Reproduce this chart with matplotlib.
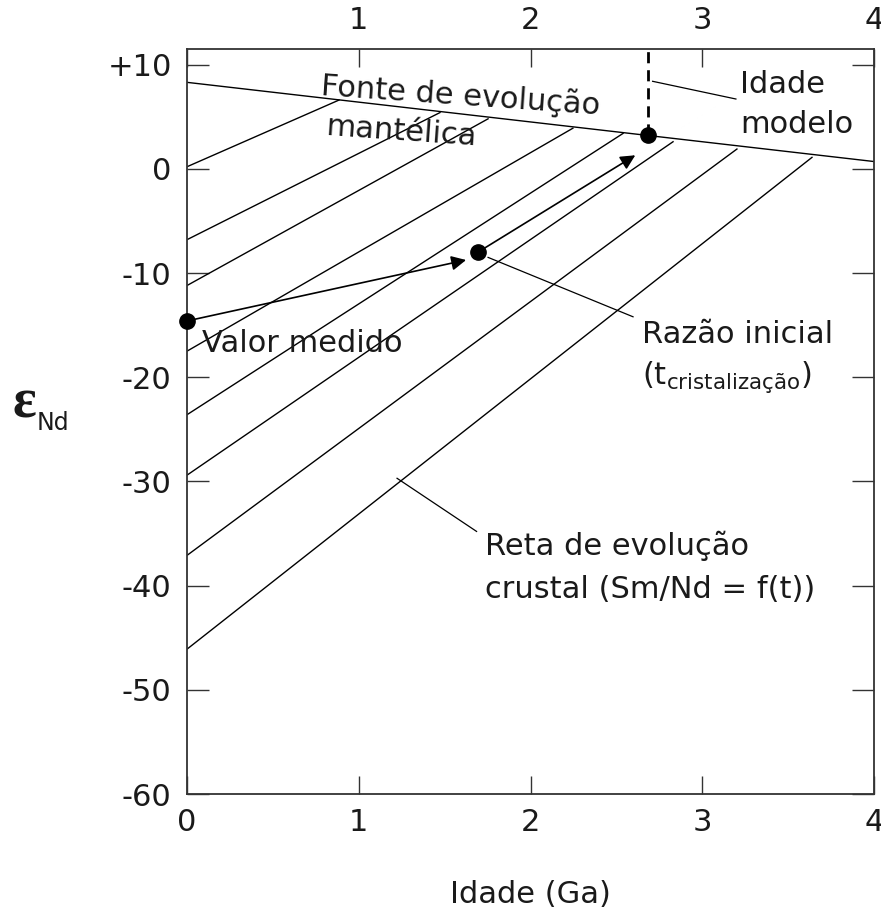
import matplotlib
matplotlib.use("Agg")
import matplotlib.pyplot as plt

# mantle evolution line (age Ga, eps Nd)
mantle_age = [0.0, 4.0]
mantle_eps = [8.3, 0.7]

# crustal evolution lines: start at age 0, end on mantle line
crust_start_eps = [0.2, -6.8, -11.2, -17.5, -23.6, -29.4, -37.1, -46.1]
crust_end_age = [0.885, 1.473, 1.753, 2.247, 2.539, 2.830, 3.202, 3.639]
crust_end_eps = [6.6, 5.4, 4.8, 3.9, 3.4, 2.6, 1.9, 1.1]

# key points: measured value, initial ratio, model age
pt_age = [0.0, 1.694, 2.684]
pt_eps = [-14.6, -8.0, 3.2]

yticks = [10, 0, -10, -20, -30, -40, -50, -60]
ytick_labels = ["+10", "0", "-10", "-20", "-30", "-40", "-50", "-60"]
xticks = [0, 1, 2, 3, 4]

FS = 22
plt.rcParams['font.family'] = ['DejaVu Sans']

fig = plt.figure(figsize=(8.81, 9.11), dpi=100)
ax = fig.add_axes([187/881, 1-794/911, (874-187)/881, (794-49)/911])

ax.plot(mantle_age, mantle_eps, color="black", lw=1.0)
for s, a, e in zip(crust_start_eps, crust_end_age, crust_end_eps):
    ax.plot([0, a], [s, e], color="black", lw=1.0)

# arrows
ax.annotate("", xy=(1.625, -8.75), xytext=(pt_age[0], pt_eps[0]),
            arrowprops=dict(arrowstyle="-|>", color="black", lw=1.2,
                            mutation_scale=22, shrinkA=0, shrinkB=0))
ax.annotate("", xy=(2.61, 1.3), xytext=(pt_age[1], pt_eps[1]),
            arrowprops=dict(arrowstyle="-|>", color="black", lw=1.2,
                            mutation_scale=22, shrinkA=0, shrinkB=0))

# model age dashed line
ax.plot([pt_age[2], pt_age[2]], [pt_eps[2], 11.5], color="black", lw=2,
        dashes=(4, 2.5))

ax.plot(pt_age, pt_eps, "o", color="black", ms=11, clip_on=False, zorder=5)

# leader lines
ax.plot([2.711, 3.196], [8.4, 6.7], color="black", lw=0.9)
ax.plot([1.753, 2.597], [-8.5, -14.2], color="black", lw=0.9)
ax.plot([1.223, 1.686], [-29.7, -34.8], color="black", lw=0.9)

# labels
tc = "#1a1a1a"
ax.text(0.774, 7.08, "Fonte de evolução", fontsize=FS, rotation=-4,
        rotation_mode="anchor", ha="left", va="baseline", color=tc)
ax.text(0.803, 3.2, "mantélica", fontsize=FS, rotation=-4,
        rotation_mode="anchor", ha="left", va="baseline", color=tc)
ax.text(3.22, 7.27, "Idade", fontsize=FS, va="baseline", color=tc)
ax.text(3.22, 3.4, "modelo", fontsize=FS, va="baseline", color=tc)
ax.text(0.087, -17.6, "Valor medido", fontsize=FS, va="baseline", color=tc)
ax.text(2.649, -16.7, "Razão inicial", fontsize=FS, va="baseline", color=tc)
ax.text(2.649, -20.65, r"(t$_{\mathregular{cristalização}}$)", fontsize=FS,
        va="baseline", color=tc)
ax.text(1.735, -37.1, "Reta de evolução", fontsize=FS, va="baseline", color=tc)
ax.text(1.735, -41.2, "crustal (Sm/Nd = f(t))", fontsize=FS, va="baseline",
        color=tc)

ax.set_xlim(0, 4)
ax.set_ylim(-60, 11.5)
ax.set_xticks(xticks)
ax.set_yticks(yticks)
ax.set_yticklabels(ytick_labels)
ax.tick_params(axis="y", direction="in", length=16, width=1, pad=11,
               labelsize=FS, right=True, colors="#333333", labelcolor=tc)
ax.tick_params(axis="x", direction="in", length=13, width=1, pad=10,
               labelsize=FS, top=True, labeltop=True, colors="#333333",
               labelcolor=tc)
for lab in ax.get_xticklabels(which="major"):
    pass
for sp in ax.spines.values():
    sp.set_linewidth(1.3)
    sp.set_color("#333333")

# hide top "0" label
top_labels = ax.xaxis.get_major_ticks()
top_labels[0].label2.set_visible(False)

fig.text(12/881, 1-417/911, "ε", fontsize=40, family="Liberation Serif",
         fontweight="bold", va="baseline", color=tc)
fig.text(37/881, 1-430/911, "Nd", fontsize=17, va="baseline", color=tc)
fig.text(530/881, 1-903/911, "Idade (Ga)", fontsize=FS, ha="center",
         va="baseline", color=tc)

fig.savefig("out.png", dpi=100)
